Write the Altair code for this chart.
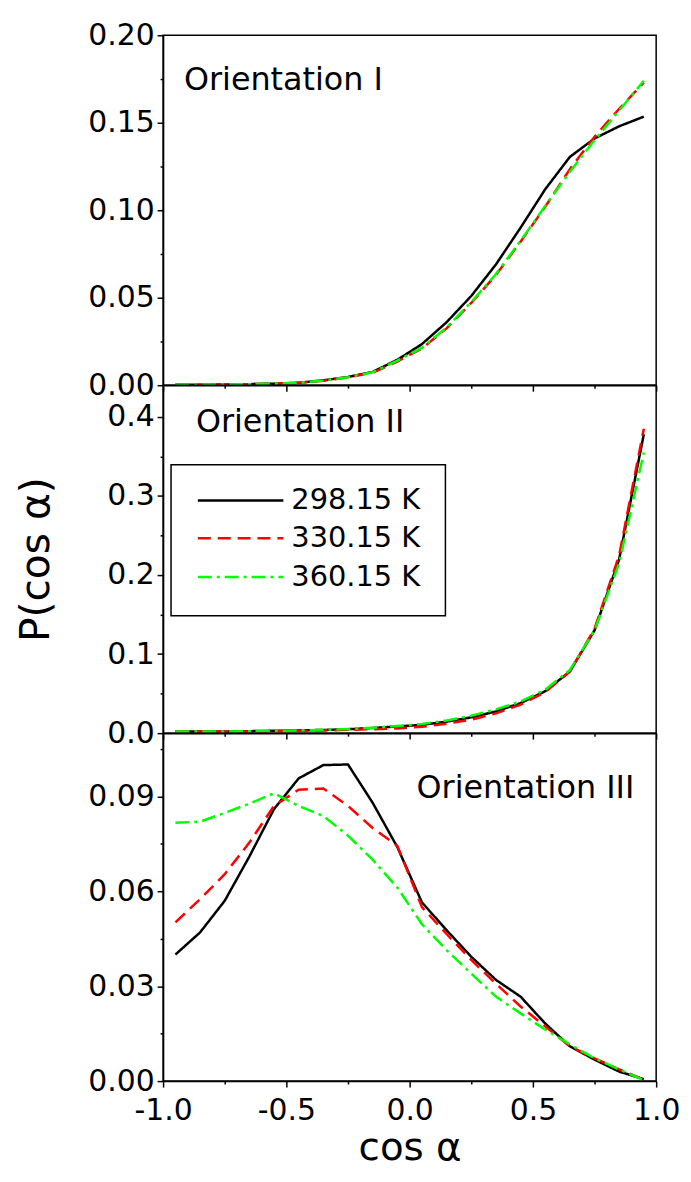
import altair as alt
import pandas as pd

FONT = "DejaVu Sans"

# ---- data ----
x_vals = [-0.95, -0.85, -0.75, -0.65, -0.55, -0.45, -0.35, -0.25, -0.15, -0.05,
          0.05, 0.15, 0.25, 0.35, 0.45, 0.55, 0.65, 0.75, 0.85, 0.95]
series = ["298.15 K", "330.15 K", "360.15 K"]
colors = ["#000000", "#ff0000", "#00ff00"]
dashes = [[1, 0], [13, 7], [14, 5, 3, 5]]

# Orientation I
p1_298 = [0.0002, 0.0003, 0.0004, 0.0006, 0.0009, 0.0014, 0.0028, 0.0047, 0.0076, 0.0145,
          0.0235, 0.036, 0.051, 0.069, 0.090, 0.112, 0.1305, 0.141, 0.148, 0.1535]
p1_330 = [0.0002, 0.0003, 0.0004, 0.0006, 0.0009, 0.0014, 0.0026, 0.0045, 0.0072, 0.0135,
          0.021, 0.0325, 0.047, 0.063, 0.082, 0.102, 0.1235, 0.142, 0.158, 0.173]
p1_360 = [0.0002, 0.0003, 0.0004, 0.0006, 0.0009, 0.0014, 0.0027, 0.0046, 0.0074, 0.014,
          0.0215, 0.033, 0.0475, 0.0635, 0.0825, 0.1025, 0.122, 0.140, 0.157, 0.174]

# Orientation II
p2_298 = [0.002, 0.002, 0.002, 0.0025, 0.003, 0.0035, 0.004, 0.005, 0.0065, 0.0085,
          0.0105, 0.0145, 0.020, 0.0275, 0.038, 0.053, 0.078, 0.130, 0.220, 0.378]
p2_330 = [0.002, 0.002, 0.002, 0.0022, 0.0025, 0.003, 0.0035, 0.0042, 0.005, 0.006,
          0.008, 0.012, 0.017, 0.025, 0.036, 0.052, 0.078, 0.132, 0.225, 0.385]
p2_360 = [0.002, 0.002, 0.002, 0.0025, 0.003, 0.0035, 0.0042, 0.0052, 0.0068, 0.009,
          0.0115, 0.016, 0.022, 0.030, 0.040, 0.055, 0.080, 0.130, 0.215, 0.355]

# Orientation III
p3_298 = [0.040, 0.047, 0.057, 0.071, 0.086, 0.0957, 0.0999, 0.1001, 0.088, 0.074,
          0.0565, 0.0477, 0.0393, 0.032, 0.0267, 0.0182, 0.011, 0.0068, 0.003, 0.0006]
p3_330 = [0.0502, 0.0575, 0.0654, 0.0754, 0.087, 0.0921, 0.0925, 0.087, 0.080, 0.0744,
          0.055, 0.0465, 0.0383, 0.0308, 0.0236, 0.0173, 0.011, 0.0072, 0.0037, 0.0005]
p3_360 = [0.0817, 0.082, 0.0848, 0.0877, 0.091, 0.087, 0.0838, 0.0776, 0.070, 0.0612,
          0.0496, 0.0414, 0.034, 0.0267, 0.0214, 0.0163, 0.0116, 0.0072, 0.0037, 0.0003]

panel_labels = ["Orientation I", "Orientation II", "Orientation III"]
x_major = [-1.0, -0.5, 0.0, 0.5, 1.0]
x_minor = [-0.75, -0.25, 0.25, 0.75]

W = 496
TICK_FS = 30


def arr(vals):
    return "[" + ",".join(repr(v) for v in vals) + "]"


def tick_cond(major):
    return {"condition": {"test": f"indexof({arr(major)}, datum.value) >= 0", "value": 6},
            "value": 3}


def x_axis(show_labels):
    kw = dict(values=sorted(x_major + x_minor), tickSize=tick_cond(x_major),
              labelFlush=False, labelOverlap=False, grid=False)
    if show_labels:
        kw.update(labels=True, title="cos α", titleFontSize=39, titlePadding=3,
                  labelPadding=9,
                  labelExpr=(f"indexof({arr(x_major)}, datum.value) >= 0 ? "
                             "(datum.value < 0 ? '-' + format(-datum.value, '.1f') : format(datum.value, '.1f')) : ''"))
    else:
        kw.update(labels=False, title=None)
    return alt.Axis(**kw)


def y_axis(major, minor, fmt, title=None, title_pad=0):
    kw = dict(values=sorted(major + minor), tickSize=tick_cond(major),
              labelFlush=False, labelOverlap=False, grid=False, labelPadding=3,
              labelExpr=f"indexof({arr(major)}, datum.value) >= 0 ? format(datum.value, '{fmt}') : ''")
    if title:
        kw.update(title=title, titleFontSize=41, titlePadding=title_pad)
    else:
        kw.update(title=None)
    return alt.Axis(**kw)


def make_panel(vals, ydom, major, minor, fmt, height, label, label_x, label_y, label_align,
               show_x_labels, ytitle=None, title_pad=0, extra=None):
    rows = []
    for s, v in zip(series, vals):
        for xv, yv in zip(x_vals, v):
            rows.append({"x": xv, "y": yv, "T": s})
    df = pd.DataFrame(rows)
    lines = alt.Chart(df).mark_line(strokeWidth=2.5).encode(
        x=alt.X("x:Q", scale=alt.Scale(domain=[-1, 1], nice=False, zero=False),
                axis=x_axis(show_x_labels)),
        y=alt.Y("y:Q", scale=alt.Scale(domain=ydom, nice=False, zero=False),
                axis=y_axis(major, minor, fmt, ytitle, title_pad)),
        color=alt.Color("T:N", scale=alt.Scale(domain=series, range=colors), legend=None),
        strokeDash=alt.StrokeDash("T:N", scale=alt.Scale(domain=series, range=dashes), legend=None),
        order=alt.Order("x:Q"),
    )
    txt = alt.Chart(alt.Data(values=[{"t": label}])).mark_text(
        font=FONT, fontSize=32, align=label_align, baseline="alphabetic", color="black"
    ).encode(x=alt.value(label_x), y=alt.value(label_y), text="t:N")
    layers = [lines, txt] + (extra or [])
    return alt.layer(*layers).properties(width=W, height=height)


# legend (decoration) for panel 2
legend_layers = [
    alt.Chart(alt.Data(values=[{}])).mark_rect(fill="white", stroke="black", strokeWidth=1.5).encode(
        x=alt.value(8), x2=alt.value(284), y=alt.value(80), y2=alt.value(232))
]
row_y = [116, 154, 193]
for i, s in enumerate(series):
    legend_layers.append(
        alt.Chart(alt.Data(values=[{}])).mark_rule(strokeWidth=2.5, strokeDash=dashes[i], color=colors[i]).encode(
            x=alt.value(35), x2=alt.value(121), y=alt.value(row_y[i]))
    )
    legend_layers.append(
        alt.Chart(alt.Data(values=[{"t": s}])).mark_text(
            font=FONT, fontSize=29, align="left", baseline="middle", color="black"
        ).encode(x=alt.value(129), y=alt.value(row_y[i]), text="t:N")
    )

p1 = make_panel([p1_298, p1_330, p1_360], [0, 0.2],
                [0.0, 0.05, 0.1, 0.15, 0.2], [0.025, 0.075, 0.125, 0.175], ".2f",
                352, panel_labels[0], 21, 55, "left", False)
p2 = make_panel([p2_298, p2_330, p2_360], [0, 0.44],
                [0.0, 0.1, 0.2, 0.3, 0.4], [0.05, 0.15, 0.25, 0.35], ".1f",
                350, panel_labels[1], 33, 47, "left", False,
                ytitle="P(cos α)", title_pad=50, extra=legend_layers)
p3 = make_panel([p3_298, p3_330, p3_360], [0, 0.11],
                [0.0, 0.03, 0.06, 0.09], [0.015, 0.045, 0.075, 0.105], ".2f",
                350, panel_labels[2], W - 22, 65, "right", True)

chart = alt.vconcat(p1, p2, p3, spacing=0, bounds="flush").properties(
    padding={"left": 6, "top": 8, "right": 2, "bottom": 0}
).configure_view(stroke="black", strokeWidth=1.5).configure_axis(
    domainColor="black", domainWidth=1.5, tickColor="black", tickWidth=1.5,
    labelFont=FONT, labelFontSize=TICK_FS, labelColor="black",
    titleFont=FONT, titleColor="black", titleFontWeight="normal",
).configure_concat(spacing=0)

chart.save("out.html", embed_options={"renderer": "svg", "actions": False})
